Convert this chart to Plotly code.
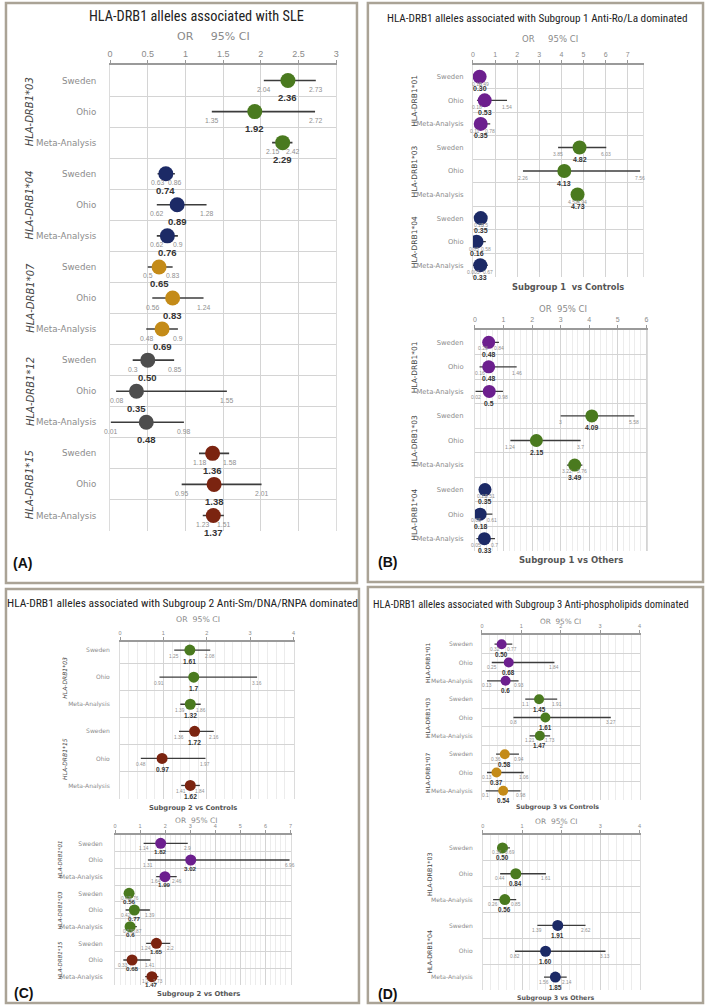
import plotly.graph_objects as go

W, H = 709, 1006

GREEN, NAVY, GOLD, GRAY, RED, PURPLE = "#4a7a1f", "#1c2a66", "#c48b18", "#4d4d4d", "#7b2410", "#6c1f8e"
ROWS = ["Sweden", "Ohio", "Meta-Analysis"]

# ---------------- Panel A : SLE ----------------
A_alleles = ["HLA-DRB1*03", "HLA-DRB1*04", "HLA-DRB1*07", "HLA-DRB1*12", "HLA-DRB1*15"]
A_colors = [GREEN, NAVY, GOLD, GRAY, RED]
A_or = [2.36, 1.92, 2.29, 0.74, 0.89, 0.76, 0.65, 0.83, 0.69, 0.50, 0.35, 0.48, 1.36, 1.38, 1.37]
A_lo = [2.04, 1.35, 2.15, 0.63, 0.62, 0.62, 0.5, 0.56, 0.48, 0.3, 0.08, 0.01, 1.18, 0.95, 1.23]
A_hi = [2.73, 2.72, 2.42, 0.86, 1.28, 0.9, 0.83, 1.24, 0.9, 0.85, 1.55, 0.98, 1.58, 2.01, 1.51]
A_txt = ["2.36", "1.92", "2.29", "0.74", "0.89", "0.76", "0.65", "0.83", "0.69",
         "0.50", "0.35", "0.48", "1.36", "1.38", "1.37"]

# ---------------- Panel B : Subgroup 1 ----------------
B_alleles = ["HLA-DRB1*01", "HLA-DRB1*03", "HLA-DRB1*04"]
B_colors = [PURPLE, GREEN, NAVY]
B1_or = [0.30, 0.53, 0.35, 4.82, 4.13, 4.73, 0.35, 0.16, 0.33]
B1_lo = [0.18, 0.18, 0.11, 3.85, 2.26, 4.52, 0.25, 0.05, 0.003]
B1_hi = [0.49, 1.54, 0.78, 6.03, 7.56, 4.94, 0.5, 0.58, 0.67]
B1_txt = ["0.30", "0.53", "0.35", "4.82", "4.13", "4.73", "0.35", "0.16", "0.33"]

B2_or = [0.48, 0.48, 0.5, 4.09, 2.15, 3.49, 0.35, 0.18, 0.33]
B2_lo = [0.28, 0.16, 0.02, 3, 1.24, 3.22, 0.23, 0.05, 0.05]
B2_hi = [0.84, 1.46, 0.98, 5.58, 3.7, 3.76, 0.51, 0.61, 0.7]
B2_txt = ["0.48", "0.48", "0.5", "4.09", "2.15", "3.49", "0.35", "0.18", "0.33"]

# ---------------- Panel C : Subgroup 2 ----------------
C1_alleles = ["HLA-DRB1*03", "HLA-DRB1*15"]
C1_colors = [GREEN, RED]
C1_or = [1.61, 1.7, 1.62, 1.72, 0.97, 1.62]
C1_lo = [1.25, 0.91, 1.39, 1.36, 0.48, 1.41]
C1_hi = [2.08, 3.16, 1.86, 2.16, 1.97, 1.84]
C1_txt = ["1.61", "1.7", "1.32", "1.72", "0.97", "1.62"]

C2_alleles = ["HLA-DRB1*01", "HLA-DRB1*03", "HLA-DRB1*15"]
C2_colors = [PURPLE, GREEN, RED]
C2_or = [1.82, 3.02, 1.99, 0.56, 0.77, 0.6, 1.65, 0.68, 1.47]
C2_lo = [1.14, 1.31, 1.64, 0.42, 0.42, 0.53, 1.24, 0.33, 1.2]
C2_hi = [2.9, 6.96, 2.46, 0.76, 1.39, 0.87, 2.2, 1.41, 1.73]
C2_txt = ["1.82", "3.02", "1.99", "0.56", "0.77", "0.6", "1.65", "0.68", "1.47"]

# ---------------- Panel D : Subgroup 3 ----------------
D1_alleles = ["HLA-DRB1*01", "HLA-DRB1*03", "HLA-DRB1*07"]
D1_colors = [PURPLE, GREEN, GOLD]
D1_or = [0.50, 0.68, 0.6, 1.45, 1.61, 1.47, 0.58, 0.37, 0.54]
D1_lo = [0.32, 0.25, 0.13, 1.1, 0.8, 1.21, 0.36, 0.13, 0.1]
D1_hi = [0.77, 1.84, 0.93, 1.91, 3.27, 1.73, 0.94, 1.06, 0.98]
D1_txt = ["0.50", "0.68", "0.6", "1.45", "1.61", "1.47", "0.58", "0.37", "0.54"]

D2_alleles = ["HLA-DRB1*03", "HLA-DRB1*04"]
D2_colors = [GREEN, NAVY]
D2_or = [0.50, 0.84, 0.56, 1.91, 1.60, 1.85]
D2_lo = [0.36, 0.44, 0.26, 1.39, 0.82, 1.56]
D2_hi = [0.69, 1.61, 0.85, 2.62, 3.13, 2.14]
D2_txt = ["0.50", "0.84", "0.56", "1.91", "1.60", "1.85"]

SANS = "DejaVu Sans"
NUM = "Liberation Sans"
NARROW = "Liberation Sans Narrow, Arial Narrow, Roboto Condensed, Liberation Sans"


def px(x):
    return x / W


def py(y):
    return 1 - y / H


fig = go.Figure()
annotations = []
layout = {}


def add_panel(idx, alleles, colors, orv, lo, hi, ortxt, L):
    n = len(orv)
    xname = "xaxis" if idx == 1 else f"xaxis{idx}"
    yname = "yaxis" if idx == 1 else f"yaxis{idx}"
    xr = "x" if idx == 1 else f"x{idx}"
    yr = "y" if idx == 1 else f"y{idx}"
    rows = list(range(n))
    cols = [colors[i // 3] for i in rows]
    fig.add_trace(go.Scatter(
        x=orv, y=rows, mode="markers", xaxis=xr, yaxis=yr, showlegend=False,
        marker=dict(size=L["ms"], color=cols, line=dict(width=0)),
        error_x=dict(type="data", symmetric=False,
                     array=[h - o for h, o in zip(hi, orv)],
                     arrayminus=[o - l for o, l in zip(orv, lo)],
                     color="#3c3c3c", thickness=L["eth"], width=0),
    ))
    xaxis = dict(
        domain=[px(L["x0"]), px(L["x1"])], range=[0, L["xmax"]], anchor=yr,
        side="top", tickmode="linear", tick0=0, dtick=L["dtick"],
        tickfont=dict(family=NUM, size=L["tfs"], color="#8a8a8a"),
        showgrid=True, gridcolor="#d4d4d4", gridwidth=1,
        showline=True, linecolor="#9a9a9a", linewidth=1.5, mirror=False,
        ticks="outside", ticklen=3, tickcolor="#9a9a9a", zeroline=False,
        fixedrange=True,
    )
    if L.get("minor"):
        xaxis["minor"] = dict(dtick=L["minor"], tick0=0, showgrid=True,
                              gridcolor="#ececec", gridwidth=1, ticks="")
    layout[xname] = xaxis
    layout[yname] = dict(
        domain=[py(L["y1"]), py(L["y0"])], range=[n - 0.5, L["ytop"]], anchor=xr,
        tickmode="array", tickvals=rows, ticktext=[ROWS[i % 3] for i in rows],
        tickfont=dict(family=SANS, size=L["cfs"], color="#8c8c8c"),
        ticks="", ticklabelstandoff=L["stand"], showgrid=False, zeroline=False,
        showline=True, linecolor="#dcdcdc", linewidth=1, mirror=True,
        minor=dict(tickmode="array", tickvals=[i + 0.5 for i in range(-1, n)],
                   showgrid=True, gridcolor="#d4d4d4", gridwidth=1, ticks=""),
        fixedrange=True,
    )
    for i in rows:
        for xv in (lo[i], hi[i]):
            annotations.append(dict(
                x=xv, y=i, xref=xr, yref=yr, text=f"{xv:g}", showarrow=False,
                yshift=-L["cdy"], xanchor="center", yanchor="middle",
                font=dict(family=NUM, size=L["cifs"], color="#8f8f8f")))
        annotations.append(dict(
            x=orv[i], y=i, xref=xr, yref=yr, text=f"<b>{ortxt[i]}</b>", showarrow=False,
            yshift=-L["ody"], xanchor="center", yanchor="middle",
            font=dict(family=NUM, size=L["ofs"], color="#333333")))
    for g, name in enumerate(alleles):
        txt = f"<i>{name}</i>" if L.get("ital") else name
        annotations.append(dict(
            x=px(L["gx"]), y=3 * g + 1, xref="paper", yref=yr, text=txt, textangle=-90,
            showarrow=False, xanchor="center", yanchor="middle",
            font=dict(family=SANS, size=L["gfs"], color="#444444")))
    annotations.append(dict(
        x=px(L["orx"]), y=py(L["ory"]), xref="paper", yref="paper",
        text="OR" + "\u00a0" * L["gap"] + "95% CI", showarrow=False,
        xanchor="center", yanchor="middle",
        font=dict(family=SANS, size=L["orfs"], color="#8a8a8a")))
    if L.get("sub"):
        annotations.append(dict(
            x=px(L["subx"]), y=py(L["suby"]), xref="paper", yref="paper",
            text=f"<b>{L['sub']}</b>", showarrow=False, xanchor="center", yanchor="middle",
            font=dict(family=SANS, size=L["subfs"], color="#555555")))


add_panel(1, A_alleles, A_colors, A_or, A_lo, A_hi, A_txt, dict(
    x0=108, x1=336, y0=65, y1=531, xmax=3.0, dtick=0.5, minor=None, ytop=-0.5,
    ms=15, eth=1.6, tfs=9, cfs=8.7, stand=11, cifs=6.8, cdy=9, ofs=9.5, ody=17,
    gx=27, gfs=10, ital=True, orx=212, ory=37, orfs=11, gap=5))

add_panel(2, B_alleles, B_colors, B1_or, B1_lo, B1_hi, B1_txt, dict(
    x0=474, x1=645, y0=65, y1=277, xmax=7.67, dtick=1, minor=None, ytop=-0.5,
    ms=14, eth=1.4, tfs=7, cfs=6.8, stand=7, cifs=5, cdy=7, ofs=7, ody=12,
    gx=415, gfs=7.5, ital=False, orx=552, ory=39, orfs=8.5, gap=5,
    sub="Subgroup 1\u00a0 vs Controls", subx=570, suby=287, subfs=8.3))

add_panel(3, B_alleles, B_colors, B2_or, B2_lo, B2_hi, B2_txt, dict(
    x0=476, x1=650, y0=330, y1=551, xmax=6.04, dtick=1, minor=0.2, ytop=-0.5,
    ms=13, eth=1.3, tfs=7, cfs=6.8, stand=9, cifs=5, cdy=6, ofs=6.8, ody=12,
    gx=415, gfs=7.5, ital=False, orx=565, ory=309, orfs=8.5, gap=2,
    sub="Subgroup 1 vs Others", subx=573, suby=560, subfs=8.5))

add_panel(4, C1_alleles, C1_colors, C1_or, C1_lo, C1_hi, C1_txt, dict(
    x0=118, x1=293, y0=642, y1=799, xmax=4.0, dtick=1, minor=0.2, ytop=-0.3,
    ms=11, eth=1.3, tfs=5.5, cfs=6, stand=8, cifs=4.8, cdy=6, ofs=6.6, ody=11,
    gx=62, gfs=6, ital=True, orx=197, ory=619, orfs=7.8, gap=2,
    sub="Subgroup 2 vs Controls", subx=192, suby=808, subfs=6.7))

add_panel(5, C2_alleles, C2_colors, C2_or, C2_lo, C2_hi, C2_txt, dict(
    x0=113, x1=290, y0=835, y1=985, xmax=7.0, dtick=1, minor=0.2, ytop=-0.5,
    ms=11, eth=1.3, tfs=5.5, cfs=6.2, stand=10, cifs=4.8, cdy=5, ofs=6.2, ody=8,
    gx=57, gfs=5.5, ital=True, orx=195, ory=820, orfs=7.5, gap=2,
    sub="Subgroup 2 vs Others", subx=197, suby=994, subfs=6.8))

add_panel(6, D1_alleles, D1_colors, D1_or, D1_lo, D1_hi, D1_txt, dict(
    x0=483, x1=642, y0=635, y1=800, xmax=4.0, dtick=1, minor=0.2, ytop=-0.5,
    ms=10, eth=1.3, tfs=5.5, cfs=6, stand=7, cifs=4.8, cdy=5, ofs=6.3, ody=10,
    gx=428, gfs=5.8, ital=False, orx=562, ory=621, orfs=7.3, gap=2,
    sub="Subgroup 3 vs Controls", subx=559, suby=807, subfs=6.3))

add_panel(7, D2_alleles, D2_colors, D2_or, D2_lo, D2_hi, D2_txt, dict(
    x0=484, x1=642, y0=835, y1=990, xmax=4.0, dtick=1, minor=0.2, ytop=-0.5,
    ms=11, eth=1.3, tfs=5.5, cfs=6, stand=8, cifs=4.8, cdy=5, ofs=6.3, ody=10,
    gx=430, gfs=6.3, ital=False, orx=558, ory=821, orfs=7.5, gap=2,
    sub="Subgroup 3 vs Others", subx=557, suby=998, subfs=6.3))

# Titles and panel letters
titles = [
    ("HLA-DRB1 alleles associated with SLE", 195, 16, 14.3),
    ("HLA-DRB1 alleles associated with Subgroup 1 Anti-Ro/La dominated", 539, 18, 11.2),
    ("HLA-DRB1 alleles associated with Subgroup 2 Anti-Sm/DNA/RNPA dominated", 181, 603, 11.5),
    ("HLA-DRB1 alleles associated with Subgroup 3 Anti-phospholipids dominated", 533, 604, 10.5),
]
for t, x, y, s in titles:
    annotations.append(dict(x=px(x), y=py(y), xref="paper", yref="paper", text=t,
                            showarrow=False, xanchor="center", yanchor="middle",
                            font=dict(family=NARROW, size=s, color="#222222")))
letters = [("(A)", 8, 563), ("(B)", 376, 562), ("(C)", 9, 993), ("(D)", 376, 994)]
for t, x, y in letters:
    annotations.append(dict(x=px(x), y=py(y), xref="paper", yref="paper", text=f"<b>{t}</b>",
                            showarrow=False, xanchor="left", yanchor="middle",
                            font=dict(family="Liberation Sans", size=14, color="#111111")))

boxes = [(3, 3, 357, 583), (368, 3, 706, 582), (3, 589, 359, 1003), (368, 587, 706, 1003)]
shapes = [dict(type="rect", xref="paper", yref="paper", x0=px(a), x1=px(c), y0=py(d), y1=py(b),
               line=dict(color="#aaa396", width=2.5), fillcolor="rgba(0,0,0,0)")
          for a, b, c, d in boxes]

fig.update_layout(
    width=W, height=H, margin=dict(l=0, r=0, t=0, b=0),
    paper_bgcolor="white", plot_bgcolor="white",
    annotations=annotations, shapes=shapes, showlegend=False,
    **layout,
)
fig.write_html("out.html", config={"displayModeBar": False},
               post_script="document.body.style.margin='0';document.body.style.overflow='hidden';")
